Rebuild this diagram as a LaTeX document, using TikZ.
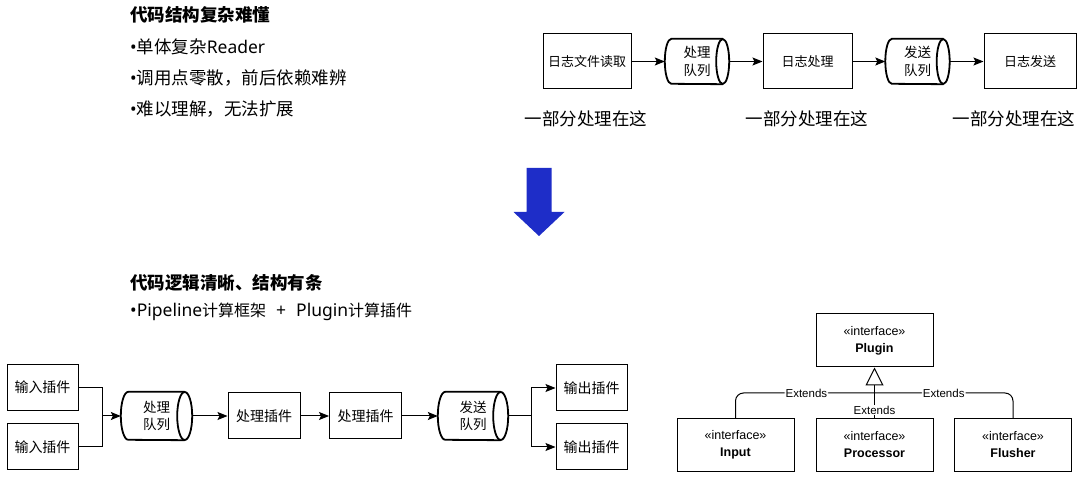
\documentclass[tikz,border=0pt]{standalone}
\usepackage{fontspec}
\setmainfont{Noto Sans CJK SC}
\newfontfamily\umlfont{Liberation Sans}
\newfontfamily\latinfont{Noto Sans}
\usepackage{tikz}
\usetikzlibrary{arrows.meta, positioning}
\definecolor{pdarrowblue}{HTML}{1E2DC8}
\definecolor{pdline}{HTML}{000000}
\tikzset{
  headline/.style={anchor=west, inner sep=0pt, font=\fontsize{17.5}{21}\selectfont\bfseries},
  bulletline/.style={anchor=west, inner sep=0pt, font=\fontsize{17.5}{21}\selectfont},
  stagebox/.style={draw=pdline, line width=1pt, minimum width=89pt, minimum height=55pt,
                   inner sep=0pt, align=center, font=\fontsize{13}{16}\selectfont},
  plugbox/.style={draw=pdline, line width=1pt, minimum width=71pt, minimum height=46pt,
                  inner sep=0pt, align=center, font=\fontsize{14}{17}\selectfont},
  queue/.style={minimum width=64pt, minimum height=45pt, inner sep=0pt, align=center,
                font=\fontsize{13.5}{17.5}\selectfont},
  queueline/.style={draw=pdline, line width=1.8pt},
  ifacebox/.style={draw=pdline, line width=1pt, minimum width=117pt, minimum height=53pt,
                   inner sep=0pt, align=center, font=\umlfont\fontsize{12.5}{17}\selectfont},
  note/.style={inner sep=0pt, font=\fontsize{17.5}{21}\selectfont},
  arrow/.style={-{Stealth[length=10pt,width=8pt,inset=2pt]}, line width=1pt},
  extlabel/.style={fill=white, inner sep=1pt, font=\umlfont\fontsize{11.5}{13}\selectfont}
}
\newcommand{\dotmark}{{\latinfont •}}

\begin{document}
\begin{tikzpicture}[x=1pt, y=-1pt]
  \useasboundingbox (0,0) rectangle (1080,478);

  % top: old structure
  \node[headline] (oldtitle) at (130,15) {代码结构复杂难懂};
  \node[bulletline] (oldb1) at (130,47) {\dotmark 单体复杂{\latinfont Reader}};
  \node[bulletline] (oldb2) at (130,78) {\dotmark 调用点零散，前后依赖难辨};
  \node[bulletline] (oldb3) at (130,109) {\dotmark 难以理解，无法扩展};

  \node[stagebox, minimum width=88pt] (read) at (587,61.5) {日志文件读取};
  \node[queue] (rq1) at (697,61.5) {处理\\队列};
  \node[stagebox] (rproc) at (807.5,61.5) {日志处理};
  \node[queue] (rq2) at (917.5,61.5) {发送\\队列};
  \node[stagebox, minimum width=92pt] (rsend) at (1030,61.5) {日志发送};

  \draw[arrow] (read) -- (rq1);
  \draw[arrow] (rq1) -- (rproc);
  \draw[arrow] (rproc) -- (rq2);
  \draw[arrow] (rq2) -- (rsend);

  \node[note] (part1) at (586,119) {一部分处理在这};
  \node[note] (part2) at (807,119) {一部分处理在这};
  \node[note] (part3) at (1014,119) {一部分处理在这};

  % big arrow
  \fill[pdarrowblue] (526.5,168) -- (551.5,168) -- (551.5,212) -- (564.5,212)
    -- (539,236) -- (513.5,212) -- (526.5,212) -- cycle;

  % bottom: pipeline + plugin
  \node[headline] (newtitle) at (130,283) {代码逻辑清晰、结构有条};
  \node[bulletline, font=\fontsize{16}{20}\selectfont] (newb1) at (130,312)
    {{\latinfont\fontsize{17.5}{20}\selectfont •Pipeline}计算框架%
     {\latinfont\fontsize{17.5}{20}\selectfont\hspace{10pt}+\hspace{10pt}Plugin}计算插件};

  \node[plugbox] (in1) at (42.5,387.5) {输入插件};
  \node[plugbox] (in2) at (42.5,447) {输入插件};
  \node[queue, minimum width=71pt, minimum height=48pt] (bq1) at (156.5,416) {处理\\队列};
  \node[plugbox, minimum width=72pt] (pp1) at (264,416) {处理插件};
  \node[plugbox, minimum width=72pt] (pp2) at (365.5,416) {处理插件};
  \node[queue, minimum width=70pt, minimum height=48pt] (bq2) at (473,416) {发送\\队列};
  \node[plugbox] (out1) at (591.5,388) {输出插件};
  \node[plugbox] (out2) at (591.5,447) {输出插件};
  \coordinate (merge) at (102,416);
  \coordinate (split) at (531,416);

  % queue outlines
  \foreach \qname/\qrx/\qry in {rq1/6.5/22.5, rq2/6.5/22.5, bq1/7.5/24, bq2/7.5/24} {
    \draw[queueline] ([xshift=-\qrx pt]\qname.east) ellipse [x radius=\qrx pt, y radius=\qry pt];
    \draw[queueline] ([xshift=-\qrx pt]\qname.north east) -- ([xshift=\qrx pt]\qname.north west)
      arc [start angle=90, end angle=270, x radius=\qrx pt, y radius=\qry pt]
      -- ([xshift=-\qrx pt]\qname.south east);
  }

  \draw[line width=1pt] (in1.east) -| (merge);
  \draw[line width=1pt] (in2.east) -| (merge);
  \draw[arrow] (merge) -- (bq1);
  \draw[arrow] (bq1) -- (pp1);
  \draw[arrow] (pp1) -- (pp2);
  \draw[arrow] (pp2) -- (bq2);
  \draw[line width=1pt] (bq2) -- (split);
  \draw[arrow] (split) |- (out1);
  \draw[arrow] (split) |- (out2);

  % interfaces
  \node[ifacebox] (plugin) at (874.5,340.5) {«interface»\\\textbf{Plugin}};
  \node[ifacebox] (input) at (735.5,445) {«interface»\\\textbf{Input}};
  \node[ifacebox] (processor) at (874.5,445) {«interface»\\\textbf{Processor}};
  \node[ifacebox] (flusher) at (1013,445) {«interface»\\\textbf{Flusher}};
  \coordinate (join) at (874.5,393);

  \draw[line width=1pt, -{Triangle[open, length=18pt, width=18pt]}]
    (processor) -- node[extlabel, pos=0.16] {Extends} (plugin);
  \draw[line width=1pt, rounded corners=8pt]
    (input.north) |- node[extlabel, pos=0.755] {Extends} (join);
  \draw[line width=1pt, rounded corners=8pt]
    (flusher.north) |- node[extlabel, pos=0.75] {Extends} (join);
\end{tikzpicture}
\end{document}
